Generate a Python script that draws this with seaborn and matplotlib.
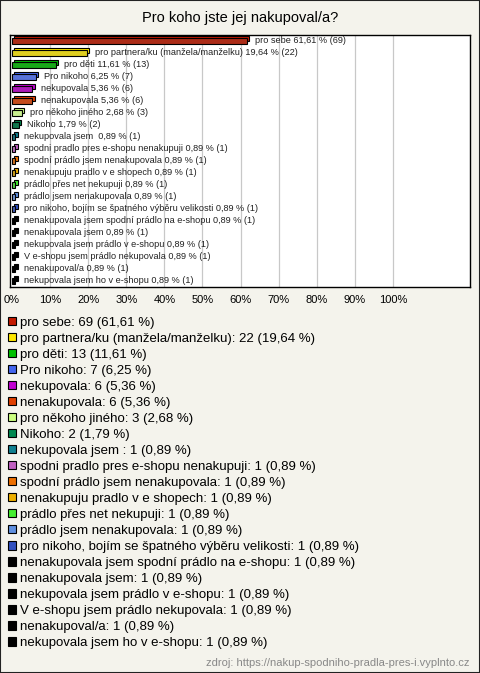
import numpy as np
import pandas as pd
import matplotlib
matplotlib.use('Agg')
import matplotlib.pyplot as plt
import matplotlib.patheffects as pe
from matplotlib.patches import Patch, Rectangle
import seaborn as sns

# data
kategorie = ['pro sebe', 'pro partnera/ku (manžela/manželku)', 'pro děti', 'Pro nikoho',
             'nekupovala', 'nenakupovala', 'pro někoho jiného', 'Nikoho', 'nekupovala jsem ',
             'spodni pradlo pres e-shopu nenakupuji', 'spodní prádlo jsem nenakupovala',
             'nenakupuju pradlo v e shopech', 'prádlo přes net nekupuji',
             'prádlo jsem nenakupovala', 'pro nikoho, bojím se špatného výběru velikosti',
             'nenakupovala jsem spodní prádlo na e-shopu', 'nenakupovala jsem',
             'nekupovala jsem prádlo v e-shopu', 'V e-shopu jsem prádlo nekupovala',
             'nenakupoval/a', 'nekupovala jsem ho v e-shopu']
pocty = [69, 22, 13, 7, 6, 6, 3, 2, 1, 1, 1, 1, 1, 1, 1, 1, 1, 1, 1, 1, 1]
procenta = [61.61, 19.64, 11.61, 6.25, 5.36, 5.36, 2.68, 1.79, 0.89, 0.89, 0.89,
            0.89, 0.89, 0.89, 0.89, 0.89, 0.89, 0.89, 0.89, 0.89, 0.89]
barvy = ['#c41a00', '#ffe800', '#00c000', '#4466ee', '#c000d0', '#e04000', '#ccff80',
         '#008850', '#108090', '#c060c0', '#ee7000', '#eeb000', '#44ee30', '#6090e0',
         '#3050c0', '#000000', '#000000', '#000000', '#000000', '#000000', '#000000']

df = pd.DataFrame({'kat': kategorie, 'n': pocty, 'pct': procenta})

def cz(x):
    return f'{x:.2f}'.replace('.', ',')

bg = '#f4f3ec'
fig = plt.figure(figsize=(4.8, 6.73), dpi=100, facecolor=bg)
plt.rcParams['font.family'] = ['Liberation Sans', 'DejaVu Sans']

ax = fig.add_axes([10/480, 1 - 287/673, 460/480, 252/673])
ax.set_facecolor('white')

sns.barplot(data=df, x='pct', y='kat', hue='kat', palette=barvy, legend=False,
            orient='h', width=0.42, edgecolor='black', linewidth=0.8, ax=ax, zorder=3)

for p in ax.patches:
    i = int(round(p.get_y() + p.get_height() / 2))
    c = barvy[i]
    p.set_path_effects([pe.PathPatchEffect(offset=(1.6, 1.6), facecolor=c,
                                           edgecolor='black', linewidth=0.8),
                        pe.Normal()])

for i, row in df.iterrows():
    ax.annotate(f"{row['kat']} {cz(row['pct'])} % ({row['n']})",
                xy=(row['pct'], i), xytext=(6, 0.5), textcoords='offset points',
                va='center', ha='left', fontsize=6.6, color='#222222', zorder=4)

ax.set_xlim(-0.5, 120.2)
ax.set_ylim(20.5, -0.5)
ax.set_xticks(np.arange(0, 101, 10))
ax.set_xticklabels([f'{t}%' for t in range(0, 101, 10)], fontsize=8)
ax.tick_params(axis='x', length=0, pad=6)
ax.set_yticks([])
ax.set_xlabel('')
ax.set_ylabel('')
for t in range(10, 101, 10):
    ax.axvline(t, color='#c8c8c8', lw=0.9, zorder=1)
for s in ax.spines.values():
    s.set_color('black')
    s.set_linewidth(1)

fig.text(0.5, 1 - 18/673, 'Pro koho jste jej nakupoval/a?', ha='center', va='center',
         fontsize=10.5)

handles = [Patch(facecolor=barvy[i], edgecolor='black', linewidth=0.8) for i in range(len(df))]
texty = [f"{k}: {n} ({cz(p)} %)" for k, n, p in zip(kategorie, pocty, procenta)]
fig.legend(handles, texty, loc='upper left', bbox_to_anchor=(5/480, 1 - 314/673),
           frameon=False, fontsize=9.5, handlelength=0.6, handleheight=0.6,
           handletextpad=0.3, labelspacing=0.305, borderaxespad=0, borderpad=0.2)

fig.text(470/480, 1 - 663/673, 'zdroj: https://nakup-spodniho-pradla-pres-i.vyplnto.cz',
         ha='right', va='center', fontsize=8, color='#888888')

fig.patches.append(Rectangle((0, 0), 1, 1, transform=fig.transFigure, fill=False,
                             edgecolor='#222222', linewidth=1.5))

fig.savefig('out.png', dpi=100, facecolor=bg)
